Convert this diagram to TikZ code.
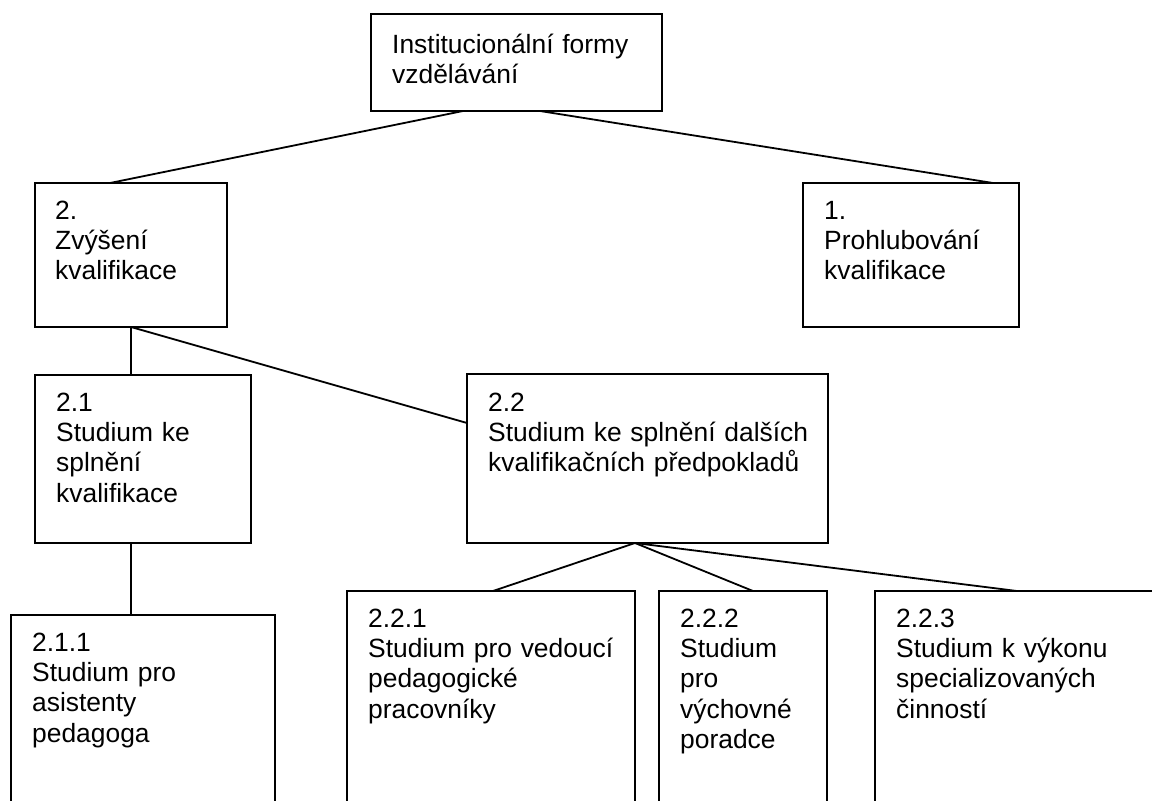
\documentclass[tikz,border=0pt]{standalone}
\usepackage{fontspec}
\setmainfont{Liberation Sans}
\begin{document}
\begin{tikzpicture}[x=1pt,y=-1pt,
  box/.style={draw, line width=2pt, inner sep=0pt, outer sep=0pt, anchor=north west},
  txt/.style={anchor=base west, inner sep=0pt, text width=380pt, align=left, font=\fontsize{26.4}{30.4}\selectfont},
  link/.style={line width=1.8pt}]
\useasboundingbox (0,0) rectangle (1152,801);
\clip (0,0) rectangle (1152,801);
% boxes
\node[box, minimum width=291pt, minimum height=97pt] (top) at (371,14) {};
\node[box, minimum width=192pt, minimum height=144pt] (z2) at (35,183) {};
\node[box, minimum width=216pt, minimum height=144pt] (p1) at (803,183) {};
\node[box, minimum width=216pt, minimum height=168pt] (s21) at (35,375) {};
\node[box, minimum width=361pt, minimum height=169pt] (s22) at (467,374) {};
\node[box, minimum width=264pt, minimum height=240pt] (s211) at (11,615) {};
\node[box, minimum width=288pt, minimum height=260pt] (s221) at (347,591) {};
\node[box, minimum width=168pt, minimum height=260pt] (s222) at (659,591) {};
\node[box, minimum width=300pt, minimum height=260pt] (s223) at (875,591) {};
% texts
\node[txt] (ttop) at (392,53) {Institucionální formy\\vzdělávání};
\node[txt] (tz2) at (55,219) {2.\\Zvýšení\\kvalifikace};
\node[txt] (tp1) at (824,219) {1.\\Prohlubování\\kvalifikace};
\node[txt] (ts21) at (56,411) {2.1\\Studium ke\\splnění\\kvalifikace};
\node[txt] (ts22) at (488,411) {2.2\\Studium ke splnění dalších\\kvalifikačních předpokladů};
\node[txt] (ts211) at (32,651) {2.1.1\\Studium pro\\asistenty\\pedagoga};
\node[txt] (ts221) at (368,627) {2.2.1\\Studium pro vedoucí\\pedagogické\\pracovníky};
\node[txt] (ts222) at (680,627) {2.2.2\\Studium\\pro\\výchovné\\poradce};
\node[txt] (ts223) at (896,627) {2.2.3\\Studium k výkonu\\specializovaných\\činností};
% connectors
\draw[link] ([xshift=92pt]top.south west) -- ([xshift=75pt]z2.north west);
\draw[link] ([xshift=169pt]top.south west) -- ([xshift=190pt]p1.north west);
\draw[link] ([xshift=96pt]z2.south west) -- ([xshift=96pt]s21.north west);
\draw[link] ([xshift=96pt]z2.south west) -- ([yshift=-49pt]s22.north west);
\draw[link] ([xshift=96pt]s21.south west) -- ([xshift=120pt]s211.north west);
\draw[link] ([xshift=168pt]s22.south west) -- ([xshift=146pt]s221.north west);
\draw[link] ([xshift=168pt]s22.south west) -- ([xshift=94pt]s222.north west);
\draw[link] ([xshift=168pt]s22.south west) -- ([xshift=142pt]s223.north west);
\end{tikzpicture}
\end{document}
